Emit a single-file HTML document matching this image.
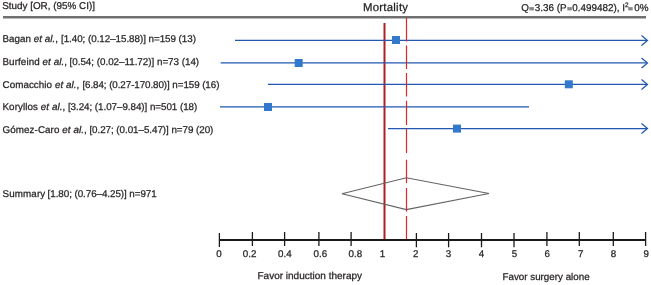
<!DOCTYPE html>
<html><head><meta charset="utf-8">
<style>
html,body{margin:0;padding:0;background:#fff;width:651px;height:285px;overflow:hidden}
svg{display:block;will-change:transform}
text{font-family:"Liberation Sans",sans-serif;fill:#231f20;stroke:#231f20;stroke-width:0.25px;text-rendering:geometricPrecision}
.eq{fill:none;stroke:none}
</style></head><body>
<svg width="651" height="285" viewBox="0 0 651 285">
<!-- header -->
<text x="2.2" y="9.45" font-size="9.9">Study [OR, (95% CI)]</text>
<text x="362.9" y="10.8" font-size="11.4" letter-spacing="0.26">Mortality</text>
<text transform="translate(521.2,11.2)" font-size="9.9">Q<tspan class="eq">=</tspan>3.36 (P<tspan class="eq">=</tspan>0.499482), I<tspan font-size="6.4" dy="-4.7">2</tspan><tspan dy="4.7" class="eq">=</tspan>0%</text>
<g fill="#888"><rect x="529.4" y="7.1" width="4.5" height="3.3"/><rect x="567.3" y="7.1" width="4.5" height="3.3"/><rect x="628.2" y="7.1" width="4.5" height="3.3"/></g>
<line x1="3" y1="17.3" x2="646" y2="17.3" stroke="#707070" stroke-width="2.5"/>

<!-- row labels -->
<g font-size="9.82">
<text x="2.5" y="41.8" textLength="55.57" lengthAdjust="spacing">Bagan <tspan font-style="italic">et al.</tspan>,</text>
<text x="60.99" y="41.8" textLength="134.99" lengthAdjust="spacing">[1.40; (0.12–15.88)] n=159 (13)</text>
<text x="2.5" y="65.2" textLength="64.59" lengthAdjust="spacing">Burfeind <tspan font-style="italic">et al.</tspan>,</text>
<text x="69.55" y="65.2" textLength="129.58" lengthAdjust="spacing">[0.54; (0.02–11.72)] n=73 (14)</text>
<text x="2.5" y="87.8" textLength="76.74" lengthAdjust="spacing">Comacchio <tspan font-style="italic">et al.</tspan>,</text>
<text x="82.42" y="87.8" textLength="136.99" lengthAdjust="spacing">[6.84; (0.27-170.80)] n=159 (16)</text>
<text x="2.5" y="110.4" textLength="62.82" lengthAdjust="spacing">Koryllos <tspan font-style="italic">et al.</tspan>,</text>
<text x="67.89" y="110.4" textLength="129.39" lengthAdjust="spacing">[3.24; (1.07–9.84)] n=501 (18)</text>
<text x="2.5" y="133.0" textLength="84.31" lengthAdjust="spacing">Gómez-Caro <tspan font-style="italic">et al.</tspan>,</text>
<text x="89.40" y="133.0" textLength="123.98" lengthAdjust="spacing">[0.27; (0.01–5.47)] n=79 (20)</text>
<text x="2.5" y="197.2" letter-spacing="0.12">Summary</text>
<text x="47.60" y="197.2" textLength="109.08" lengthAdjust="spacing">[1.80; (0.76–4.25)] n=971</text>
</g>

<!-- red reference lines -->
<line x1="384.5" y1="23" x2="384.5" y2="240" stroke="#b21d25" stroke-width="2"/>


<!-- CI lines -->
<g stroke="#2357b2" stroke-width="1.25" fill="none">
<line x1="235" y1="40.4" x2="647" y2="40.4"/>
<polyline points="641.5,35.4 647.5,40.4 641.5,45.4"/>
<line x1="220.7" y1="62.9" x2="647" y2="62.9"/>
<polyline points="641.5,57.9 647.5,62.9 641.5,67.9"/>
<line x1="268" y1="84.4" x2="647" y2="84.4"/>
<polyline points="641.5,79.4 647.5,84.4 641.5,89.4"/>
<line x1="220" y1="106.9" x2="529" y2="106.9"/>
<line x1="388" y1="128.5" x2="647" y2="128.5"/>
<polyline points="641.5,123.5 647.5,128.5 641.5,133.5"/>
</g>
<g fill="#3279cd">
<rect x="392" y="36" width="8" height="8"/>
<rect x="294.7" y="59" width="8" height="8"/>
<rect x="564.8" y="80.3" width="8" height="8"/>
<rect x="264" y="103" width="8" height="8"/>
<rect x="453" y="124.6" width="8" height="8"/>
</g>

<!-- diamond -->
<polygon points="342,193.7 406.3,177.7 489,193.6 406.3,209.6" fill="none" stroke="#636363" stroke-width="1.05"/>
<g stroke="#e0262b" stroke-width="1.2">
<line x1="406.5" y1="18" x2="406.5" y2="41.5"/>
<line x1="406.5" y1="45.5" x2="406.5" y2="69"/>
<line x1="406.5" y1="73" x2="406.5" y2="96.5"/>
<line x1="406.5" y1="100.8" x2="406.5" y2="125"/>
<line x1="406.5" y1="128.7" x2="406.5" y2="153"/>
<line x1="406.5" y1="159.7" x2="406.5" y2="183"/>
<line x1="406.5" y1="188" x2="406.5" y2="211.6"/>
<line x1="406.5" y1="216" x2="406.5" y2="240"/>
</g>

<!-- axis -->
<g stroke="#1a1a1a">
<line x1="219.5" y1="239.9" x2="645.7" y2="239.9" stroke-width="2"/>
<g stroke-width="1.3">
<line x1="219.4" y1="233" x2="219.4" y2="247"/>
<line x1="252.4" y1="232" x2="252.4" y2="246"/>
<line x1="284.6" y1="232" x2="284.6" y2="246"/>
<line x1="318.9" y1="232" x2="318.9" y2="246"/>
<line x1="351.1" y1="232" x2="351.1" y2="246"/>
<line x1="416.4" y1="233" x2="416.4" y2="247.3"/>
<line x1="448.6" y1="233" x2="448.6" y2="247.3"/>
<line x1="481.5" y1="233" x2="481.5" y2="247.3"/>
<line x1="514.0" y1="233" x2="514.0" y2="247.3"/>
<line x1="546.9" y1="232" x2="546.9" y2="246"/>
<line x1="579.3" y1="232" x2="579.3" y2="246"/>
<line x1="613.3" y1="232" x2="613.3" y2="246"/>
<line x1="645.6" y1="232" x2="645.6" y2="246"/>
</g>
</g>
<g font-size="9.75" text-anchor="middle">
<text x="219" y="256.8">0</text>
<text x="249.6" y="256.8">0.2</text>
<text x="284.9" y="256.8">0.4</text>
<text x="320.3" y="256.8">0.6</text>
<text x="355.3" y="256.8">0.8</text>
<text x="382.5" y="256.8">1</text>
<text x="415.6" y="256.8">2</text>
<text x="448.5" y="256.8">3</text>
<text x="481.4" y="256.8">4</text>
<text x="514.4" y="256.8">5</text>
<text x="547.2" y="256.8">6</text>
<text x="580.7" y="256.8">7</text>
<text x="613.5" y="256.8">8</text>
<text x="646.2" y="256.8">9</text>
</g>
<text x="257.5" y="279.3" font-size="10">Favor induction therapy</text>
<text x="502.5" y="280.4" font-size="9.8">Favor surgery alone</text>
</svg>
</body></html>
